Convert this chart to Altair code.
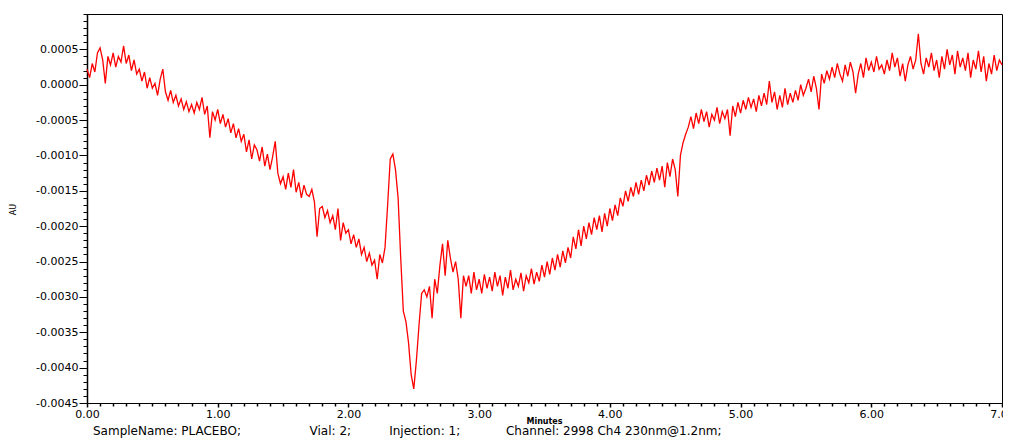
import altair as alt
import pandas as pd

absorbance_mau = [
    0.22, 0.10, 0.30, 0.18, 0.45,
    0.52, 0.35, 0.02, 0.40, 0.28,
    0.45, 0.25, 0.40, 0.32, 0.55,
    0.30, 0.42, 0.20, 0.35, 0.15,
    0.22, 0.05, 0.18, -0.05, 0.10,
    -0.05, 0.02, -0.15, 0.08, 0.22,
    -0.10, -0.22, -0.08, -0.25, -0.15,
    -0.30, -0.20, -0.35, -0.24, -0.38,
    -0.28, -0.40, -0.25, -0.35, -0.18,
    -0.42, -0.30, -0.75, -0.38, -0.50,
    -0.35, -0.55, -0.42, -0.60, -0.48,
    -0.68, -0.55, -0.75, -0.62, -0.80,
    -0.70, -0.95, -0.78, -1.05, -0.85,
    -0.92, -1.08, -0.88, -1.15, -0.98,
    -1.20, -1.02, -0.80, -1.25, -1.40,
    -1.30, -1.48, -1.25, -1.45, -1.20,
    -1.52, -1.38, -1.60, -1.42, -1.55,
    -1.58, -1.48, -1.66, -2.15, -1.75,
    -1.72, -1.88, -1.78, -1.95, -1.85,
    -2.05, -1.75, -2.20, -1.95, -2.10,
    -2.05, -2.25, -2.12, -2.30, -2.18,
    -2.40, -2.30, -2.50, -2.38, -2.55,
    -2.48, -2.75, -2.40, -2.52, -2.30,
    -1.70, -1.05, -0.98, -1.20, -1.60,
    -2.45, -3.20, -3.35, -3.65, -4.10,
    -4.30, -3.90, -3.40, -2.95, -2.90,
    -3.00, -2.85, -3.30, -2.75, -2.95,
    -2.55, -2.25, -2.70, -2.20, -2.45,
    -2.65, -2.50, -2.75, -3.30, -2.70,
    -2.85, -2.70, -2.95, -2.65, -2.90,
    -2.75, -2.95, -2.68, -2.88, -2.72,
    -2.92, -2.65, -2.85, -2.70, -2.98,
    -2.72, -2.88, -2.62, -2.90, -2.75,
    -2.85, -2.66, -2.92, -2.70, -2.80,
    -2.60, -2.82, -2.65, -2.78, -2.55,
    -2.72, -2.50, -2.68, -2.45, -2.62,
    -2.40, -2.58, -2.35, -2.52, -2.30,
    -2.45, -2.15, -2.32, -2.05, -2.28,
    -2.00, -2.18, -1.95, -2.12, -1.88,
    -2.05, -1.85, -2.08, -1.82, -2.00,
    -1.75, -1.92, -1.70, -1.85, -1.60,
    -1.72, -1.50, -1.65, -1.45, -1.58,
    -1.38, -1.55, -1.35, -1.50, -1.28,
    -1.42, -1.22, -1.38, -1.18, -1.35,
    -1.15, -1.45, -1.10, -1.30, -1.05,
    -1.20, -1.58, -1.00, -0.82, -0.70,
    -0.60, -0.45, -0.62, -0.40, -0.55,
    -0.35, -0.52, -0.38, -0.60, -0.42,
    -0.50, -0.32, -0.55, -0.38, -0.48,
    -0.35, -0.72, -0.30, -0.45, -0.25,
    -0.40, -0.22, -0.35, -0.18, -0.32,
    -0.20, -0.38, -0.15, -0.30, -0.12,
    -0.28, 0.05, -0.25, -0.10, -0.35,
    -0.15, -0.32, -0.05, -0.28, -0.12,
    -0.25, -0.08, -0.22, 0.00, -0.15,
    -0.05, 0.08, -0.10, 0.12, -0.05,
    -0.35, 0.15, 0.02, 0.20, 0.08,
    0.25, 0.10, 0.30, 0.15, 0.05,
    0.28, 0.12, 0.32, 0.18, -0.12,
    0.15, 0.30, 0.10, 0.38, 0.20,
    0.32, 0.18, 0.40, 0.22, 0.28,
    0.15, 0.35, 0.20, 0.45, 0.25,
    0.38, 0.12, 0.30, 0.05, 0.28,
    0.40, 0.22, 0.35, 0.72, 0.30,
    0.15, 0.38, 0.25, 0.45, 0.20,
    0.35, 0.10, 0.40, 0.22, 0.50,
    0.28, 0.42, 0.15, 0.48, 0.25,
    0.38, 0.20, 0.45, 0.10, 0.35,
    0.22, 0.48, 0.18, 0.40, 0.05,
    0.30, 0.15, 0.42, 0.20, 0.35,
    0.28,
]
time_step_min = 0.02

x_tick_values = [i / 10 for i in range(71)]          # 0.0 .. 7.0 minutes
y_tick_values = [i / 10000 for i in range(-45, 11)]  # -0.0045 .. 0.0010 AU

footer_parts = ["SampleName: PLACEBO;", "Vial: 2;", "Injection: 1;",
                "Channel: 2998 Ch4 230nm@1.2nm;"]
gaps = [18, 10, 12]
footer = footer_parts[0]
for g, part in zip(gaps, footer_parts[1:]):
    footer += "\u00a0" * g + part

minutes = [round(i * time_step_min, 2) for i in range(len(absorbance_mau))]
df = pd.DataFrame({"Minutes": minutes, "AU": [v / 1000 for v in absorbance_mau]})

FONT = "DejaVu Sans"
x_major = "abs(datum.value - round(datum.value)) < 0.001"
y_major = "abs(datum.value * 2000 - round(datum.value * 2000)) < 0.01 && datum.value < 0.0008"

x_axis = alt.Axis(
    values=x_tick_values,
    labelExpr=f"{x_major} ? format(datum.value, '.2f') : ''",
    tickSize={"condition": {"test": x_major, "value": 4}, "value": 3},
    tickWidth=1.5,
    labelOverlap=False, labelFlush=False, labelFont=FONT, labelFontSize=11,
    labelColor="black", labelPadding=1, tickColor="black", domainColor="black",
    domainWidth=1.2, grid=False, title="Minutes", titleFont=FONT, titleFontSize=8,
    titleFontWeight="bold", titleColor="black", titleX=457, titleY=18,
    titleBaseline="middle", titleAlign="center",
)
y_axis = alt.Axis(
    values=y_tick_values,
    labelExpr=f"{y_major} ? replace(format(datum.value, '.4f'), '\u2212', '-') : ''",
    tickSize={"condition": {"test": y_major, "value": 8}, "value": 4},
    labelOverlap=False, labelFlush=False, labelFont=FONT, labelFontSize=11,
    labelColor="black", labelPadding=1, tickColor="black", domainColor="black",
    domainWidth=1.5, grid=False, title="AU", titleFont=FONT, titleFontSize=8,
    titleFontWeight="normal", titleColor="black", titleX=-74, titleY=195,
    titleAngle=270, titleBaseline="middle", titleAlign="center",
)

chart = alt.Chart(df).mark_line(color="#ff0000", strokeWidth=1.3).encode(
    x=alt.X("Minutes:Q", scale=alt.Scale(domain=[0, 7], nice=False, zero=False), axis=x_axis),
    y=alt.Y("AU:Q", scale=alt.Scale(domain=[-0.0045, 0.001], nice=False, zero=False), axis=y_axis),
).properties(
    width=915,
    height=389,
    padding={"left": 79, "top": 6, "right": 1, "bottom": 40},
    autosize=alt.AutoSizeParams(type="none"),
    title=alt.TitleParams(
        text=footer, orient="bottom", anchor="start", frame="group", font=FONT,
        fontSize=12, fontWeight="normal", color="black", offset=1, dx=6,
    ),
).configure_view(stroke="black", strokeWidth=1)

chart.save("out.html", embed_options={"renderer": "svg", "actions": False})
